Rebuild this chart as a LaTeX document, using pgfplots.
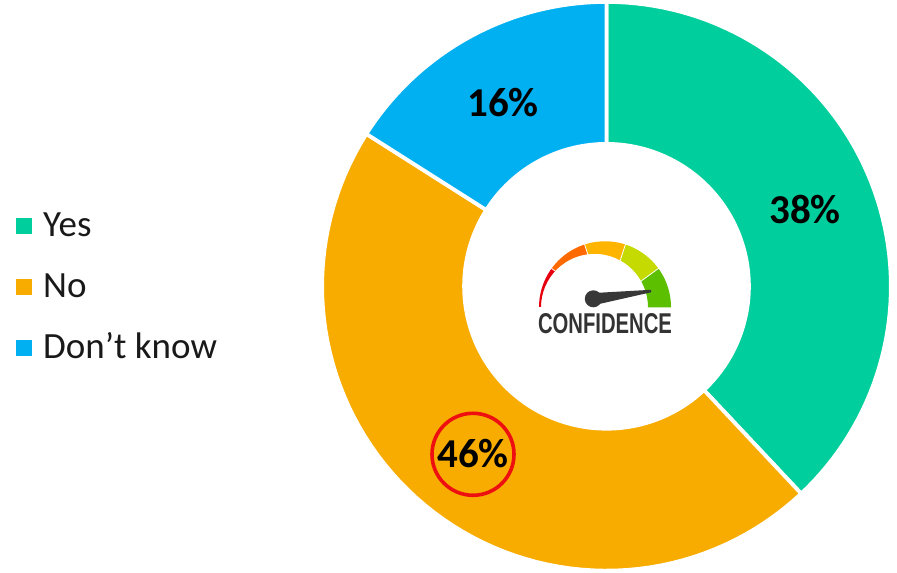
\documentclass[border=0pt]{standalone}
\usepackage{fontspec}
\usepackage{pgfplots}
\usepackage{pgfplotstable}
\usetikzlibrary{calc}
\pgfplotsset{compat=1.18}
\setmainfont{Carlito}
\newfontfamily\gaugefont{Liberation Sans}
\definecolor{yesc}{HTML}{00CE9C}
\definecolor{noc}{HTML}{F8AC00}
\definecolor{dkc}{HTML}{00B0F0}
\definecolor{ringmark}{HTML}{EE1010}
\definecolor{gaugea}{RGB}{230,0,15}
\definecolor{gaugeb}{RGB}{255,106,0}
\definecolor{gaugec}{RGB}{255,180,0}
\definecolor{gauged}{RGB}{196,218,0}
\definecolor{gaugee}{RGB}{92,191,0}

% Answer shares, in percent
\pgfplotstableread{
label value
Yes 38
No 46
DK 16
}\sharetable

% Ring geometry, in picture units
\def\ringcx{606.5}\def\ringcy{284}\def\ringR{284.4}\def\ringr{142.4}

% Builds the outline of one ring sector from a table row and keeps a running total
\newcount\arcstep
\def\runningshare{0}
\newcommand\buildsector[1]{%
  \pgfplotstablegetelem{#1}{value}\of\sharetable
  \pgfmathsetmacro\startang{90-3.6*\runningshare}%
  \pgfmathsetmacro\endang{90-3.6*(\runningshare+\pgfplotsretval)}%
  \pgfmathsetmacro\newshare{\runningshare+\pgfplotsretval}%
  \xdef\runningshare{\newshare}%
  \gdef\sectorpath{}%
  \arcstep=0
  \loop
    \pgfmathsetmacro\ang{\startang+(\endang-\startang)*\the\arcstep/72}%
    \pgfmathsetmacro\px{\ringcx+\ringR*cos(\ang)}%
    \pgfmathsetmacro\py{\ringcy-\ringR*sin(\ang)}%
    \xdef\sectorpath{\sectorpath (\px,\py)}%
    \advance\arcstep by 1
  \ifnum\arcstep<73 \repeat
  \arcstep=72
  \loop
    \pgfmathsetmacro\ang{\startang+(\endang-\startang)*\the\arcstep/72}%
    \pgfmathsetmacro\px{\ringcx+\ringr*cos(\ang)}%
    \pgfmathsetmacro\py{\ringcy-\ringr*sin(\ang)}%
    \xdef\sectorpath{\sectorpath (\px,\py)}%
    \advance\arcstep by -1
  \ifnum\arcstep>-1 \repeat
  \pgfmathsetmacro\px{\ringcx+\ringR*cos(\startang)}%
  \pgfmathsetmacro\py{\ringcy-\ringR*sin(\startang)}%
  \xdef\sectorpath{\sectorpath (\px,\py)}%
}
\newcommand\plotsector[2]{%
  \buildsector{#1}%
  \edef\doplot{\noexpand\addplot[fill=#2,draw=white,line width=3.8pt,line join=round] coordinates {\sectorpath};}%
  \doplot
}

% One coloured band of the gauge, between two angles around its centre
\newcommand\gaugeband[3]{%
  \begin{scope}
    \clip (605,305) -- ($(605,305)+(#1:90pt)$) -- ($(605,305)+(#2:90pt)$) -- cycle;
    \fill[#3,even odd rule] (605,305) circle[radius=66pt] (594.5,305) circle[radius=53.5pt];
  \end{scope}
  \draw[white,line width=0.8pt] ($(605,305)+(#1:40pt)$) -- ($(605,305)+(#1:67pt)$);
}

\begin{document}
\begin{tikzpicture}
\begin{axis}[
  scale only axis, width=897pt, height=570pt,
  xmin=0, xmax=897, ymin=0, ymax=570, y dir=reverse,
  hide axis, clip=false]

% Page extent
\path (0,0) rectangle (897,570);

% Ring
\plotsector{0}{yesc}
\plotsector{1}{noc}
\plotsector{2}{dkc}

% Value labels
\node[font=\fontsize{41}{46}\selectfont\bfseries] at (805,207) {38\%};
\node[font=\fontsize{41}{46}\selectfont\bfseries] at (473,451.5) {46\%};
\node[font=\fontsize{41}{46}\selectfont\bfseries] at (503,100) {16\%};
\draw[ringmark,line width=3.6pt] (473,452) circle[radius=41pt];

% Legend
\addplot[only marks,mark=square*,mark size=7.6pt,color=yesc] coordinates {(24,223.5)};
\addplot[only marks,mark=square*,mark size=7.6pt,color=noc] coordinates {(24,284.5)};
\addplot[only marks,mark=square*,mark size=7.6pt,color=dkc] coordinates {(24,345.5)};
\node[anchor=west,inner sep=0pt,font=\fontsize{37}{42}\selectfont,text=black!90] at (43,226) {\strut Yes};
\node[anchor=west,inner sep=0pt,font=\fontsize{37}{42}\selectfont,text=black!90] at (43,287) {\strut No};
\node[anchor=west,inner sep=0pt,font=\fontsize{37}{42}\selectfont,text=black!90] at (43,348) {\strut Don’t know};

% Confidence gauge in the hole
\gaugeband{180}{144}{gaugea}
\gaugeband{144}{108}{gaugeb}
\gaugeband{108}{72}{gaugec}
\gaugeband{72}{36}{gauged}
\gaugeband{36}{0}{gaugee}
\fill[black!78] (598,290.5) -- (651,287.5) -- (651,290) -- (600,301.5) -- cycle;
\fill[black!78] (593.3,296.5) circle[radius=8.5pt];
\node[inner sep=0pt,text=black!80] at (605,321) {\resizebox{134pt}{20pt}{\gaugefont\bfseries CONFIDENCE}};
\end{axis}
\end{tikzpicture}
\end{document}
